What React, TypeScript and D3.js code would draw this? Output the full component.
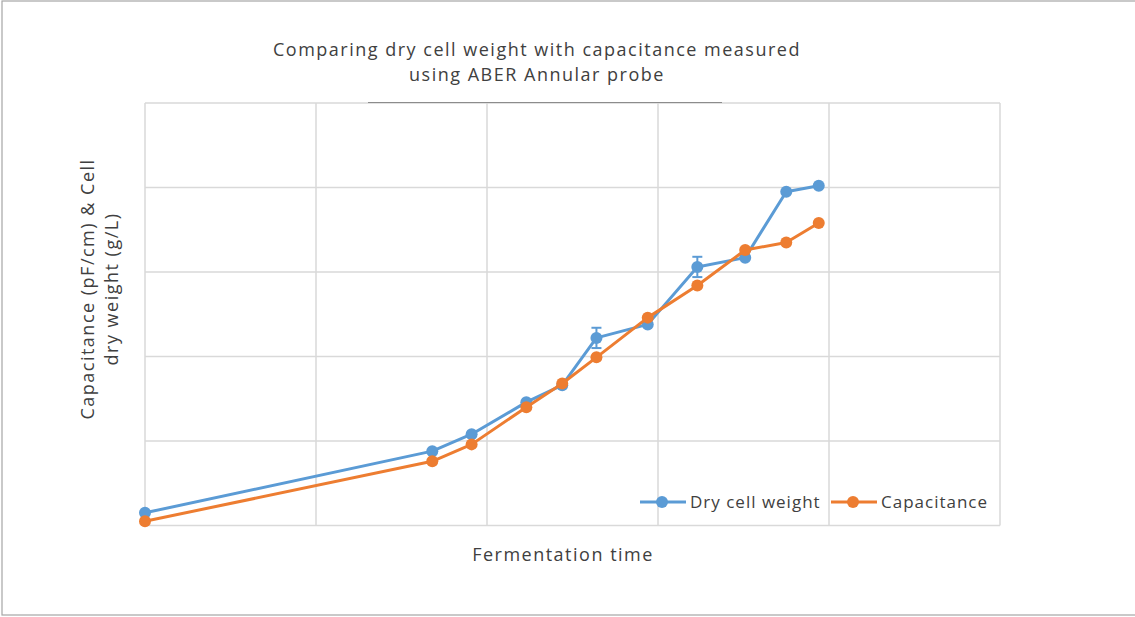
import React, { useEffect, useRef } from "react";
import * as d3 from "d3";

const fermentationTime = [0, 16.8, 19.1, 22.3, 24.4, 26.4, 29.4, 32.3, 35.1, 37.5, 39.4];
const dryCellWeight = [1.5, 8.8, 10.8, 14.6, 16.6, 22.2, 23.8, 30.6, 31.7, 39.5, 40.2];
const dryCellError = [0, 0, 0, 0, 0, 1.2, 0, 1.2, 0, 0, 0];
const capacitance = [0.5, 7.6, 9.6, 14.0, 16.8, 19.9, 24.6, 28.4, 32.6, 33.5, 35.8];

const seriesNames = ["Dry cell weight", "Capacitance"];
const titleLines = ["Comparing dry cell weight with capacitance measured", "using ABER Annular probe"];
const yTitleLines = ["Capacitance (pF/cm) & Cell", "dry weight (g/L)"];
const xTitle = "Fermentation time";

const width = 1135;
const height = 617;
const font = "'Open Sans', sans-serif";
const textColor = "#404040";
const colors = ["#5B9BD5", "#ED7D31"];

const App: React.FC = () => {
  const ref = useRef<SVGSVGElement | null>(null);

  useEffect(() => {
    const svg = d3.select(ref.current);
    svg.selectAll("*").remove();

    const margin = { top: 103, right: 135, bottom: 91.5, left: 145 };

    const x = d3.scaleLinear().domain([0, 50]).range([margin.left, width - margin.right]);
    const y = d3.scaleLinear().domain([0, 50]).range([height - margin.bottom, margin.top]);

    // outer frame
    svg
      .append("rect")
      .attr("x", 2)
      .attr("y", 1)
      .attr("width", width + 10)
      .attr("height", 614)
      .attr("fill", "#fff")
      .attr("stroke", "#a6a6a6")
      .attr("stroke-width", 1.2);

    // grid
    const grid = svg.append("g").attr("stroke", "#d9d9d9").attr("stroke-width", 1.5);
    grid
      .selectAll(".gx")
      .data(x.ticks(5))
      .enter()
      .append("line")
      .attr("x1", (d) => x(d))
      .attr("x2", (d) => x(d))
      .attr("y1", y(0))
      .attr("y2", y(50));
    grid
      .selectAll(".gy")
      .data(y.ticks(5))
      .enter()
      .append("line")
      .attr("x1", x(0))
      .attr("x2", x(50))
      .attr("y1", (d) => y(d))
      .attr("y2", (d) => y(d));

    // leftover title box edge
    svg
      .append("line")
      .attr("x1", 368)
      .attr("x2", 722)
      .attr("y1", y(50) - 0.5)
      .attr("y2", y(50) - 0.5)
      .attr("stroke", "#8c8c8c")
      .attr("stroke-width", 1.2);

    const addText = (sel: any, size: number, spacing: number) =>
      sel
        .attr("font-family", font)
        .attr("font-size", size)
        .attr("letter-spacing", spacing)
        .attr("fill", textColor);

    // title
    addText(
      svg
        .append("g")
        .selectAll("text")
        .data(titleLines)
        .enter()
        .append("text")
        .attr("x", 537)
        .attr("y", (d, i) => 56 + i * 25)
        .attr("text-anchor", "middle"),
      18,
      1.5
    ).text((d) => d);

    // y title
    addText(
      svg
        .append("g")
        .selectAll("text")
        .data(yTitleLines)
        .enter()
        .append("text")
        .attr("transform", (d, i) => `translate(${94 + i * 24},289) rotate(-90)`)
        .attr("text-anchor", "middle"),
      18,
      1.5
    ).text((d) => d);

    // x title
    addText(
      svg.append("text").attr("x", 563).attr("y", 561).attr("text-anchor", "middle"),
      18,
      1.5
    ).text(xTitle);

    const series = [dryCellWeight, capacitance];
    const line = d3
      .line<number>()
      .x((d, i) => x(fermentationTime[i]))
      .y((d) => y(d));

    series.forEach((vals, s) => {
      svg
        .append("path")
        .datum(vals)
        .attr("fill", "none")
        .attr("stroke", colors[s])
        .attr("stroke-width", 3)
        .attr("stroke-linejoin", "round")
        .attr("d", line);

      svg
        .append("g")
        .selectAll("circle")
        .data(vals)
        .enter()
        .append("circle")
        .attr("cx", (d, i) => x(fermentationTime[i]))
        .attr("cy", (d) => y(d))
        .attr("r", 6)
        .attr("fill", colors[s]);
    });

    // error bars
    const errG = svg.append("g").attr("stroke", colors[0]).attr("stroke-width", 2);
    dryCellWeight.forEach((v, i) => {
      const e = dryCellError[i];
      if (!e) return;
      const cx = x(fermentationTime[i]);
      errG.append("line").attr("x1", cx).attr("x2", cx).attr("y1", y(v + e)).attr("y2", y(v - e));
      errG.append("line").attr("x1", cx - 5).attr("x2", cx + 5).attr("y1", y(v + e)).attr("y2", y(v + e));
      errG.append("line").attr("x1", cx - 5).attr("x2", cx + 5).attr("y1", y(v - e)).attr("y2", y(v - e));
    });

    // legend
    const legendX = [640, 831];
    const legendY = 502;
    seriesNames.forEach((name, i) => {
      const g = svg.append("g").attr("transform", `translate(${legendX[i]},${legendY})`);
      g.append("line").attr("x1", 0).attr("x2", 46).attr("y1", 0).attr("y2", 0).attr("stroke", colors[i]).attr("stroke-width", 3);
      g.append("circle").attr("cx", 22).attr("cy", 0).attr("r", 6).attr("fill", colors[i]);
      addText(g.append("text").attr("x", 50).attr("y", 6), 17, 1).text(name);
    });
  }, []);

  return (
    <div>
      <style>{`body{margin:0;}`}</style>
      <svg ref={ref} width={width} height={height} style={{ display: "block" }}></svg>
    </div>
  );
};

export default App;
